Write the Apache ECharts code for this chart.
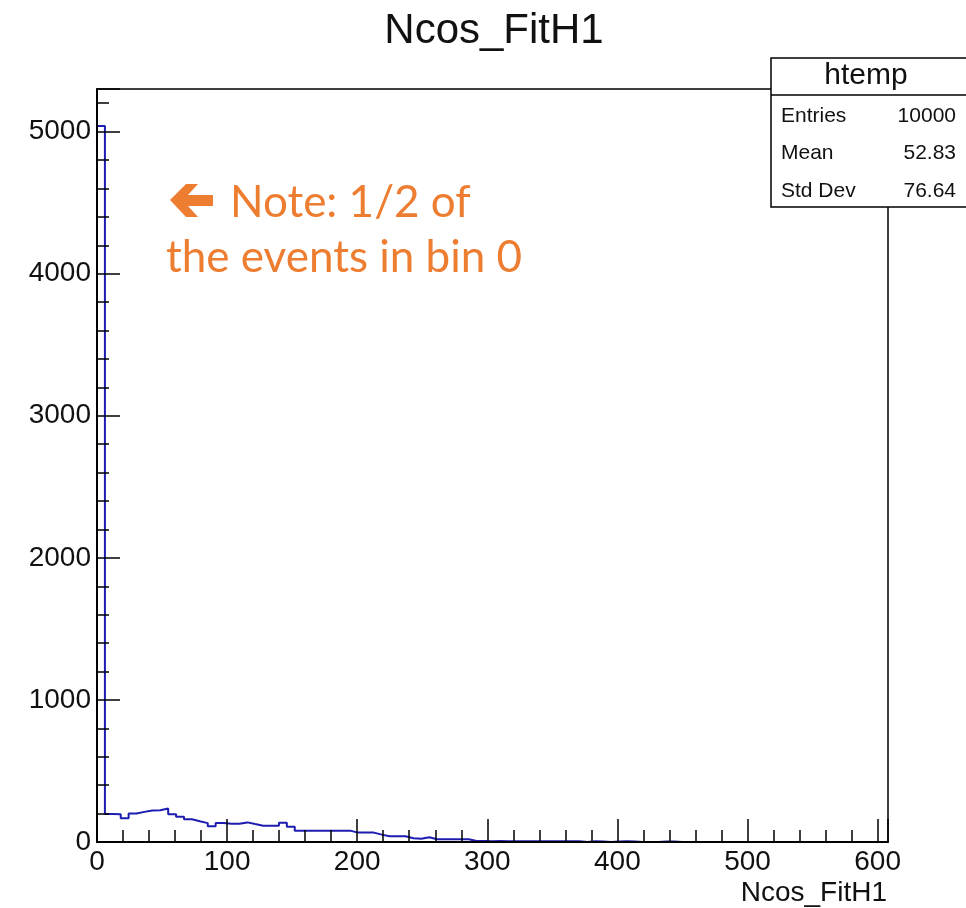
<!DOCTYPE html>
<html>
<head>
<meta charset="utf-8">
<title>Ncos_FitH1</title>
<script src="https://cdn.jsdelivr.net/npm/echarts@6/dist/echarts.min.js"></script>
<style>
  html, body { margin: 0; padding: 0; background: #fff; }
  #chart { width: 966px; height: 908px; }
</style>
</head>
<body>
<div id="chart"></div>
<script>
// histogram htemp: 100 bins between xMin and xMax
const xMin = 0;
const xMax = 608;
const binCounts = [
    5040, 197, 195, 168, 200, 212, 222, 224, 236, 196,
    178, 160, 146, 133, 110, 133, 128, 128, 138, 126,
    115, 115, 115, 136, 108, 80, 80, 80, 80, 80,
    80, 80, 66, 66, 66, 52, 40, 40, 40, 26,
    23, 34, 20, 20, 20, 20, 20, 7, 7, 6,
    7, 6, 6, 6, 5, 6, 5, 5, 6, 5,
    5, 0, 5, 4, 0, 4, 5, 4, 0, 0,
    0, 4, 4, 0, 0, 0, 0, 0, 0, 0,
    0, 0, 0, 0, 0, 0, 0, 0, 0, 0,
    0, 0, 0, 0, 0, 0, 0, 0, 0, 0,
];
const xTickLabels = [0, 100, 200, 300, 400, 500, 600];
const yTickLabels = [0, 1000, 2000, 3000, 4000, 5000];
const statsNames = ['Entries', 'Mean', 'Std Dev'];
const statsValues = ['10000', '52.83', '76.64'];

const yMax = 5300;
const rootFont = '"Liberation Sans", Arial, Helvetica, sans-serif';
const noteFont = '44px Lato, "Open Sans", sans-serif';
const noteColor = '#ED7D31';

// outline of the histogram: one step per bin
const binWidth = (xMax - xMin) / binCounts.length;
const outline = [[xMin, 0]];
binCounts.forEach((c, i) => {
    outline.push([xMin + i * binWidth, c]);
});
outline.push([xMax, binCounts[binCounts.length - 1]]);
outline.push([xMax, 0]);

const chart = echarts.init(document.getElementById('chart'), null, { renderer: 'canvas' });

const labelStyle = {
    color: '#111',
    fontFamily: rootFont,
    fontSize: 28,
};

const statsTexts = [];
statsNames.forEach((name, i) => {
    const y = 116 + i * 37.5;
    statsTexts.push({
        type: 'text',
        z: 102,
        style: {
            text: name, x: 781, y, fill: '#111', font: `21px ${rootFont}`,
            align: 'left', verticalAlign: 'middle',
        },
    });
    statsTexts.push({
        type: 'text',
        z: 102,
        style: {
            text: statsValues[i], x: 956, y, fill: '#111', font: `21px ${rootFont}`,
            align: 'right', verticalAlign: 'middle',
        },
    });
});

chart.setOption({
    animation: false,
    grid: {
        left: 97,
        right: 78,
        top: 89,
        bottom: 66,
        show: true,
        borderColor: '#000',
        borderWidth: 1.5,
        backgroundColor: 'transparent',
        outerBoundsMode: 'none',
    },
    xAxis: [
        {
            // minor ticks + labels
            type: 'value',
            min: xMin,
            max: xMax,
            interval: 20,
            z: 5,
            axisLine: { show: true, lineStyle: { color: '#000', width: 2 } },
            axisTick: { show: true, inside: true, length: 12, lineStyle: { color: '#000', width: 1.5 } },
            axisLabel: {
                ...labelStyle,
                margin: 6,
                showMaxLabel: false,
                formatter: (v) => (xTickLabels.includes(v) ? String(v) : ''),
            },
            splitLine: { show: false },
        },
        {
            // major ticks
            type: 'value',
            position: 'bottom',
            min: xMin,
            max: xMax,
            interval: 100,
            z: 5,
            axisLine: { show: false },
            axisTick: { show: true, inside: true, length: 23, lineStyle: { color: '#000', width: 1.5 } },
            axisLabel: { show: false },
            splitLine: { show: false },
        },
    ],
    yAxis: [
        {
            type: 'value',
            min: 0,
            max: yMax,
            interval: 200,
            z: 5,
            axisLine: { show: true, lineStyle: { color: '#000', width: 2 } },
            axisTick: { show: true, inside: true, length: 12, lineStyle: { color: '#000', width: 1.5 } },
            axisLabel: {
                ...labelStyle,
                margin: 6,
                showMaxLabel: false,
                formatter: (v) => (yTickLabels.includes(v) ? String(v) : ''),
            },
            splitLine: { show: false },
        },
        {
            type: 'value',
            position: 'left',
            min: 0,
            max: yMax,
            interval: 1000,
            z: 5,
            axisLine: { show: false },
            axisTick: { show: true, inside: true, length: 23, lineStyle: { color: '#000', width: 1.5 } },
            axisLabel: { show: false },
            splitLine: { show: false },
        },
    ],
    series: [
        {
            type: 'line',
            xAxisIndex: 0,
            yAxisIndex: 0,
            step: 'end',
            symbol: 'none',
            clip: true,
            lineStyle: { color: '#1c1cb0', width: 2 },
            data: outline,
        },
    ],
    graphic: [
        {
            type: 'text',
            style: {
                text: 'Ncos_FitH1', x: 494, y: 31, fill: '#111', font: `42px ${rootFont}`,
                align: 'center', verticalAlign: 'middle',
            },
        },
        {
            type: 'text',
            style: {
                text: 'Ncos_FitH1', x: 887, y: 893, fill: '#111', font: `28px ${rootFont}`,
                align: 'right', verticalAlign: 'middle',
            },
        },
        // stats box
        {
            type: 'rect',
            z: 100,
            shape: { x: 771, y: 58, width: 220, height: 149 },
            style: { fill: '#fff', stroke: '#000', lineWidth: 1.5 },
        },
        {
            type: 'line',
            z: 101,
            shape: { x1: 771, y1: 95, x2: 966, y2: 95 },
            style: { stroke: '#000', lineWidth: 1.5 },
        },
        {
            type: 'text',
            z: 102,
            style: {
                text: 'htemp', x: 866, y: 76, fill: '#111', font: `30px ${rootFont}`,
                align: 'center', verticalAlign: 'middle',
            },
        },
        ...statsTexts,
        // note
        {
            type: 'polygon',
            shape: {
                points: [
                    [170, 200], [186, 184], [198, 184], [188, 195], [213, 195],
                    [213, 206], [188, 206], [198, 217], [186, 217],
                ],
            },
            style: { fill: noteColor },
        },
        {
            type: 'text',
            style: {
                text: 'Note: 1/2 of', x: 230, y: 203, fill: noteColor, font: noteFont,
                align: 'left', verticalAlign: 'middle',
            },
        },
        {
            type: 'text',
            style: {
                text: 'the events in bin 0', x: 166, y: 258, fill: noteColor, font: noteFont,
                align: 'left', verticalAlign: 'middle',
            },
        },
    ],
});

window.addEventListener('resize', () => chart.resize());
</script>
</body>
</html>
